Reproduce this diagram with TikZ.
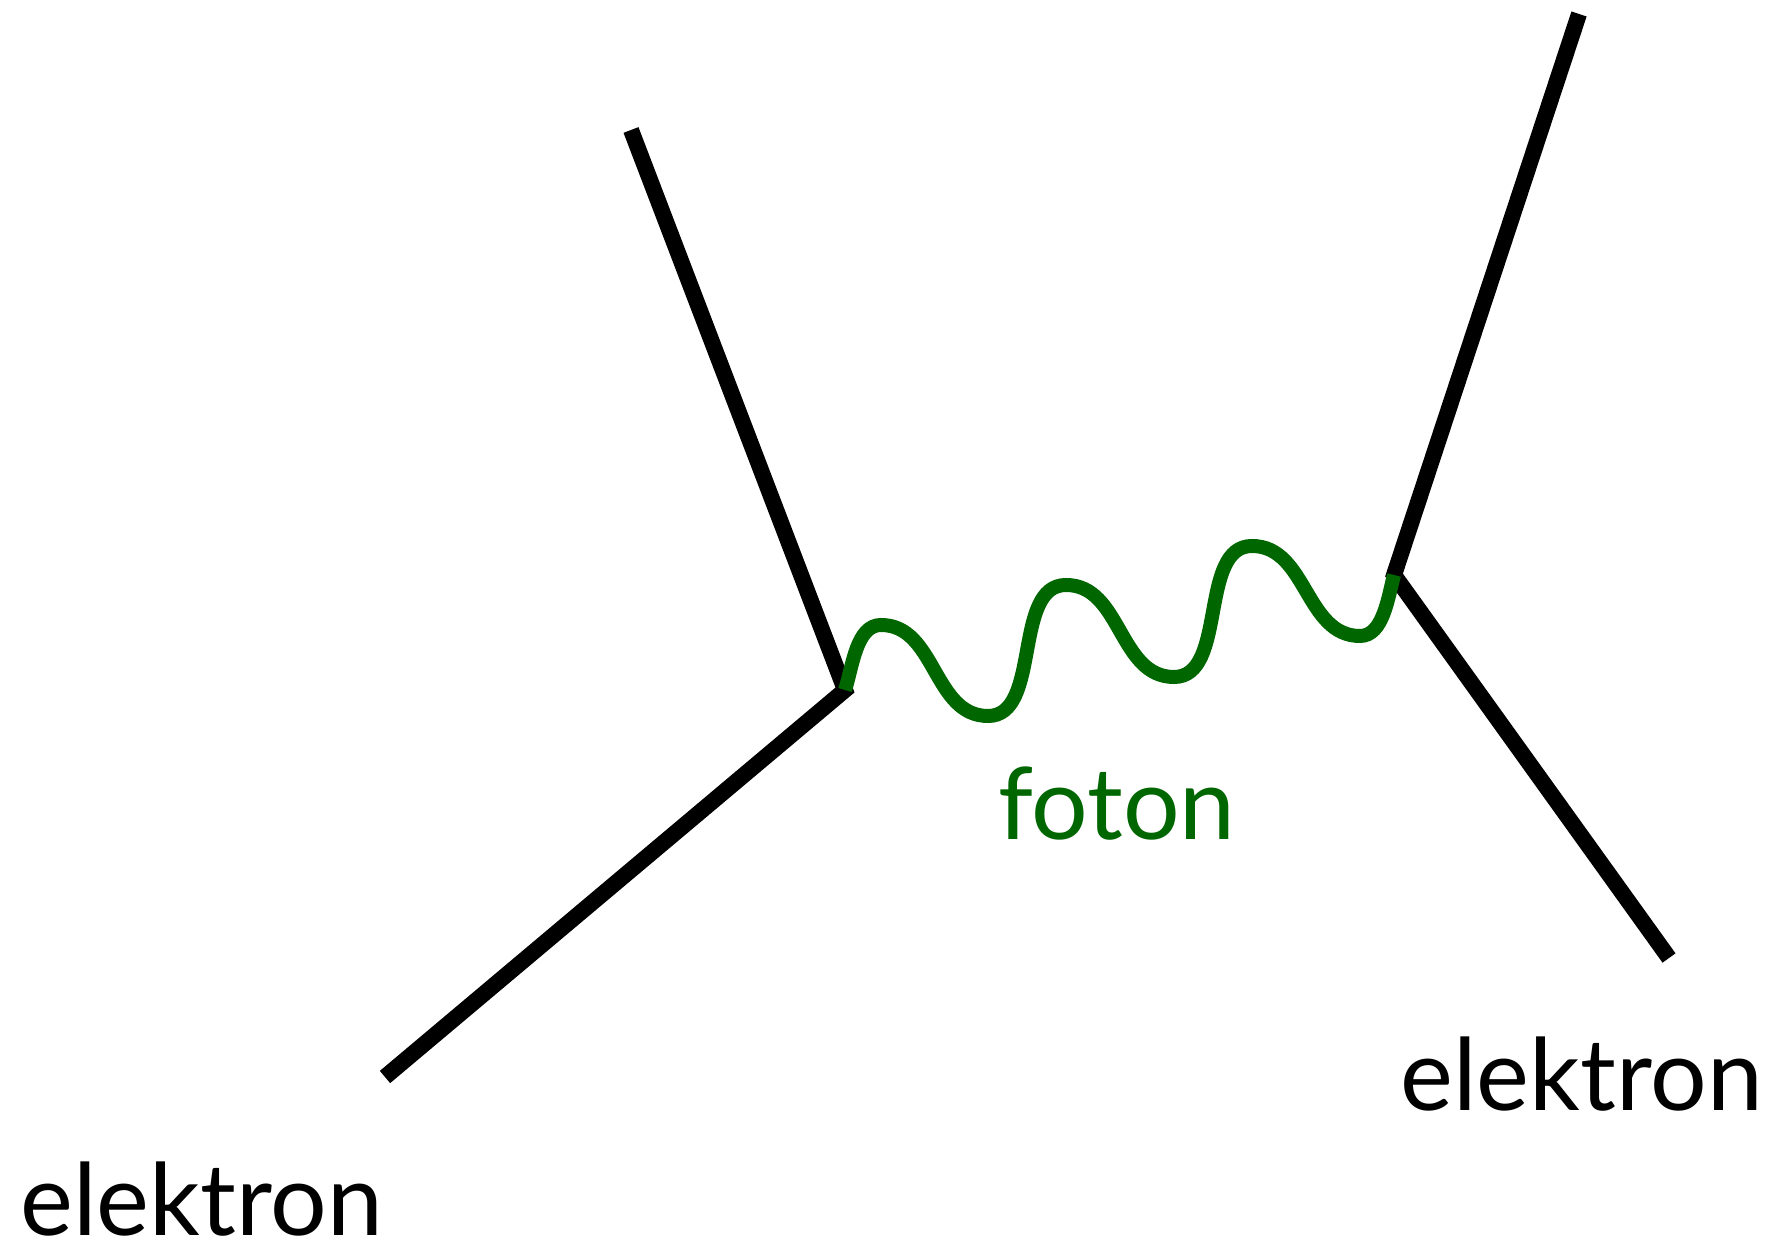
\documentclass[tikz,border=0pt]{standalone}
\usepackage{fontspec}
\setmainfont{Lato}
\usetikzlibrary{positioning}
\definecolor{photongreen}{RGB}{0,102,0}

\begin{document}
\begin{tikzpicture}[
    x=1pt, y=1pt,
    fermion/.style={draw=black, line width=16pt},
    photon/.style={draw=photongreen, line width=14pt},
    rise/.style={out=0, in=180, looseness=0.9},
    fall/.style={out=0, in=180, looseness=1},
    particle/.style={anchor=base west, inner sep=0pt, font=\fontsize{100}{120}\selectfont}
]
\useasboundingbox (0,0) rectangle (1768,1249);
% vertices and outer ends
\coordinate (vl) at (845,559);
\coordinate (vr) at (1394,674);
\coordinate (inl) at (385,172);
\coordinate (outl) at (631,1119);
\coordinate (inr) at (1669,291);
\coordinate (outr) at (1579,1235);
% electron lines
\draw[fermion] (inl) -- (vl) -- (outl);
\draw[fermion] (outr) -- (vr) -- (inr);
% photon
\draw[photon] (vl) to[out=72, in=180, looseness=0.85] (881,624)
    to[fall] (988,533) to[rise] (1066,664)
    to[fall] (1174,572) to[rise] (1252,703)
    to[fall] (1360,613) to[out=0, in=255, looseness=0.85] (vr);
% labels
\node[particle] (el) at (20,13) {elektron};
\node[particle] (er) at (1400,138) {elektron};
\node[particle, text=photongreen] (ph) at (998,409) {foton};
\end{tikzpicture}
\end{document}
